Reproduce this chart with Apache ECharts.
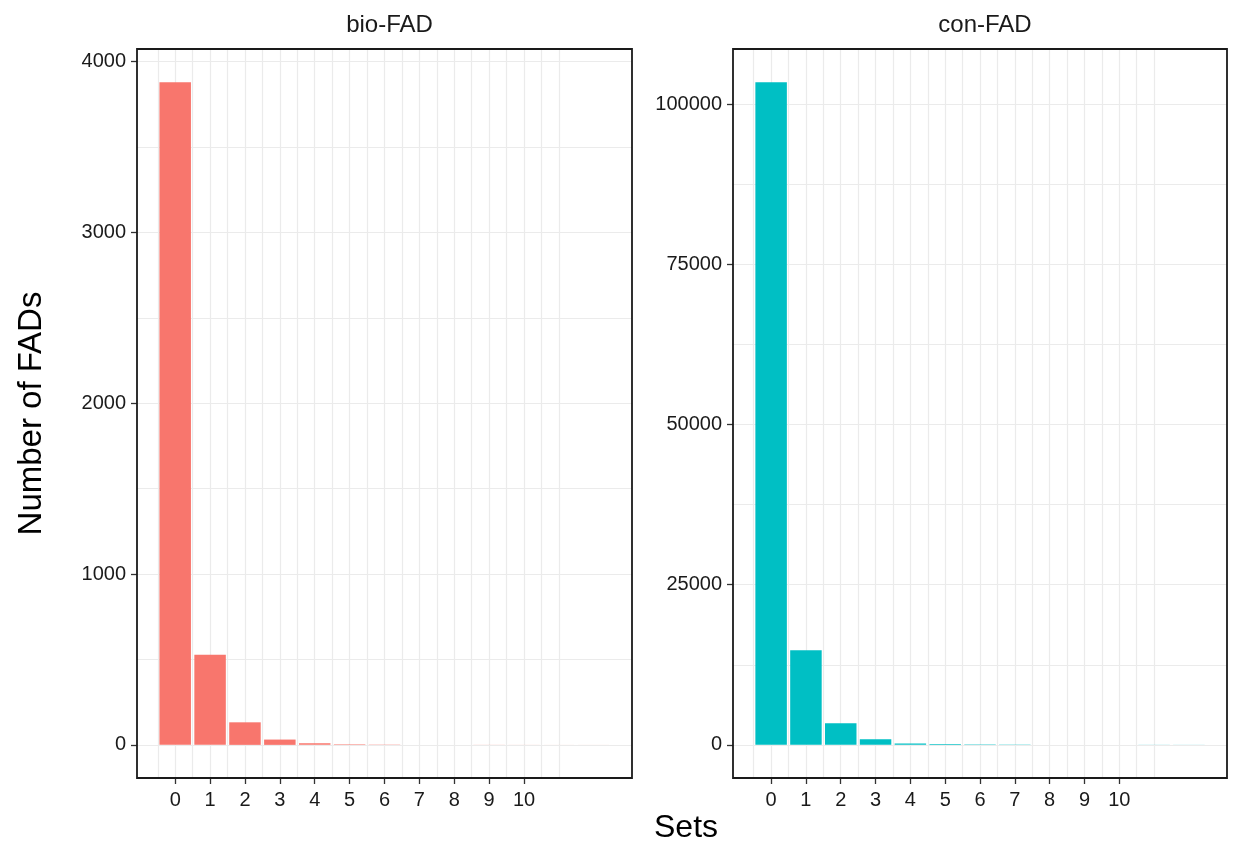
<!DOCTYPE html>
<html>
<head>
<meta charset="utf-8">
<script src="https://cdn.jsdelivr.net/npm/echarts@6/dist/echarts.min.js"></script>
<style>html,body{margin:0;padding:0;background:#fff;}#c{width:1233px;height:847px;}</style>
</head>
<body>
<div id="c"></div>
<script>
// ---- data ----
const sets = [0, 1, 2, 3, 4, 5, 6, 7, 8, 9, 10, 11, 12];
const bioValues = [3880, 528, 132, 31, 10, 4, 2, 1, 1, 0.5, 0.3, 0.2, 0.2];
const conValues = [103440, 14750, 3370, 870, 230, 110, 60, 40, 30, 25, 20, 15, 12];
const xTickLabels = [0, 1, 2, 3, 4, 5, 6, 7, 8, 9, 10];
const xGridValues = [-0.5, 0, 0.5, 1, 1.5, 2, 2.5, 3, 3.5, 4, 4.5, 5, 5.5, 6, 6.5, 7, 7.5, 8, 8.5, 9, 9.5, 10, 10.5, 11];
const bioYTicks = [0, 1000, 2000, 3000, 4000];
const bioYGrid = [0, 500, 1000, 1500, 2000, 2500, 3000, 3500, 4000];
const conYTicks = [0, 25000, 50000, 75000, 100000];
const conYGrid = [0, 12500, 25000, 37500, 50000, 62500, 75000, 87500, 100000];
const panelTitles = ['bio-FAD', 'con-FAD'];
const xTitle = 'Sets';
const yTitle = 'Number of FADs';

// ---- layout / style ----
const FONT = 'Liberation Sans, Arial, sans-serif';
const colors = ['#F8766D', '#00BFC4'];
const grids = [
  { left: 137, top: 49, width: 495, height: 729 },
  { left: 733, top: 49, width: 494, height: 729 }
];
const xMin = -1.095, xMax = 13.095;
function yRange(vals) {
  const mx = Math.max(...vals);
  return [-0.05 * mx, mx * 1.05];
}
const bioR = yRange(bioValues), conR = yRange(conValues);
const gridLine = { show: true, lineStyle: { color: '#EBEBEB', width: 1.2 } };
const tickStyle = { color: '#333', width: 1.3 };

const xAxes = [], yAxes = [], series = [];
[0, 1].forEach(function (g) {
  xAxes.push({
    type: 'value', gridIndex: g, position: 'bottom', min: xMin, max: xMax,
    axisLine: { show: false, onZero: false },
    axisTick: { show: true, customValues: xTickLabels, length: 6, lineStyle: tickStyle },
    axisLabel: { show: true, customValues: xTickLabels, color: '#1a1a1a', fontSize: 20, fontFamily: FONT, margin: 12 },
    splitLine: { show: false }
  });
  xAxes.push({
    type: 'value', gridIndex: g, position: 'bottom', min: xMin, max: xMax,
    axisLine: { show: false, onZero: false },
    axisTick: { show: false, customValues: xGridValues },
    axisLabel: { show: false },
    splitLine: gridLine
  });
  const r = g === 0 ? bioR : conR;
  const ticks = g === 0 ? bioYTicks : conYTicks;
  const gl = g === 0 ? bioYGrid : conYGrid;
  yAxes.push({
    type: 'value', gridIndex: g, position: 'left', min: r[0], max: r[1],
    axisLine: { show: false, onZero: false },
    axisTick: { show: true, customValues: ticks, length: 6, lineStyle: tickStyle },
    axisLabel: { show: true, customValues: ticks, color: '#1a1a1a', fontSize: 20, fontFamily: FONT, margin: 11,
      formatter: function (v) { return String(v); } },
    splitLine: { show: false },
    name: g === 0 ? yTitle : '', nameLocation: 'middle', nameGap: 89, nameRotate: 90,
    nameTextStyle: { fontSize: 33, fontFamily: FONT, color: '#000' }
  });
  yAxes.push({
    type: 'value', gridIndex: g, position: 'left', min: r[0], max: r[1],
    axisLine: { show: false, onZero: false },
    axisTick: { show: false, customValues: gl },
    axisLabel: { show: false },
    splitLine: gridLine
  });
  const vals = g === 0 ? bioValues : conValues;
  series.push({
    type: 'bar', xAxisIndex: g * 2, yAxisIndex: g * 2,
    data: sets.map(function (s, i) { return [s, vals[i]]; }),
    barWidth: 31.5,
    itemStyle: { color: colors[g] },
    silent: true, z: 3
  });
});

const chart = echarts.init(document.getElementById('c'), null, { renderer: 'canvas' });
chart.setOption({
  backgroundColor: '#fff',
  animation: false,
  grid: grids.map(function (gr) {
    return Object.assign({ show: true, borderColor: '#1a1a1a', borderWidth: 1.8, backgroundColor: 'transparent', z: 10 }, gr);
  }),
  title: panelTitles.map(function (t, i) {
    return {
      text: t, left: grids[i].left + grids[i].width / 2, top: 8, textAlign: 'center',
      textStyle: { fontSize: 24, fontWeight: 'normal', fontFamily: FONT, color: '#1a1a1a' }
    };
  }),
  graphic: [{
    type: 'text', left: 654, top: 812,
    style: { text: xTitle, fontSize: 32, fontFamily: FONT, fill: '#000' }
  }],
  xAxis: xAxes,
  yAxis: yAxes,
  series: series
});
</script>
</body>
</html>
